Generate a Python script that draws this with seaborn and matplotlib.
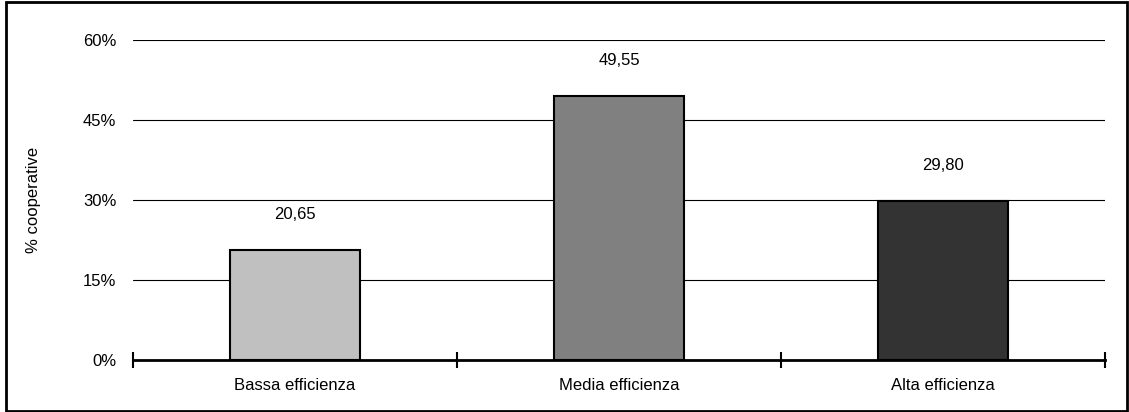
import matplotlib
matplotlib.use("Agg")
import seaborn as sns
import pandas as pd
from matplotlib import pyplot as plt
from matplotlib.patches import Rectangle
from matplotlib.ticker import FixedLocator

categories = ["Bassa efficienza", "Media efficienza", "Alta efficienza"]
values = [20.65, 49.55, 29.80]
bar_colors = ["#C0C0C0", "#808080", "#333333"]
y_ticks = [0, 15, 30, 45, 60]
y_tick_labels = ["0%", "15%", "30%", "45%", "60%"]

sns.set_style("white")
plt.rcParams["font.family"] = ["Liberation Sans", "DejaVu Sans"]
plt.rcParams["text.color"] = "black"
plt.rcParams["axes.labelcolor"] = "black"
plt.rcParams["xtick.color"] = "black"
plt.rcParams["ytick.color"] = "black"

df = pd.DataFrame({"categoria": categories, "valore": values})

fig = plt.figure(figsize=(11.29, 4.12), dpi=100)
ax = fig.add_axes([133 / 1129, 52 / 412, 972 / 1129, 320 / 412])

sns.barplot(data=df, x="categoria", y="valore", hue="categoria",
            palette=bar_colors, width=0.4, edgecolor="black",
            linewidth=1.5, legend=False, ax=ax, zorder=3)

ax.set_xlim(-0.5, 2.5)
ax.set_ylim(0, 60)
ax.set_yticks(y_ticks)
ax.set_yticklabels(y_tick_labels, fontsize=12)
ax.yaxis.grid(True, color="black", linewidth=0.8, zorder=0)
ax.tick_params(axis="y", length=0, pad=12)

# category separators as ticks on the x axis
ax.xaxis.set_minor_locator(FixedLocator([-0.5, 0.5, 1.5, 2.5]))
ax.tick_params(axis="x", which="major", length=0, labelsize=12, pad=13)
ax.tick_params(axis="x", which="minor", direction="inout", length=12, width=1.5, bottom=True)

for s in ["left", "right", "top"]:
    ax.spines[s].set_visible(False)
ax.spines["bottom"].set_linewidth(2)
ax.spines["bottom"].set_color("black")
ax.spines["bottom"].set_zorder(4)

labels = [f"{v:.2f}".replace(".", ",") for v in values]
for i, cont in enumerate(ax.containers):
    ax.bar_label(cont, labels=[labels[i]], padding=20, fontsize=12)

ax.set_xlabel("")
ax.set_ylabel("% cooperative", fontsize=12, labelpad=30)

fig.patches.append(Rectangle((6 / 1129, 1 / 412), 1121 / 1129, 409 / 412,
                             transform=fig.transFigure, fill=False,
                             edgecolor="black", linewidth=2))

fig.savefig("out.png", dpi=100)
